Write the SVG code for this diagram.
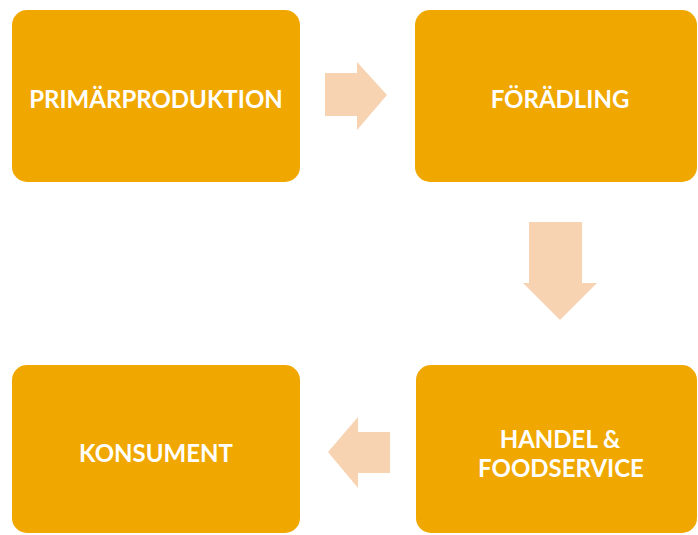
<svg xmlns="http://www.w3.org/2000/svg" width="698" height="535" viewBox="0 0 698 535">
<style>
.box{fill:#F0A800;}
.lbl{fill:#FFFFFF;font-family:Lato,"Open Sans","Liberation Sans",sans-serif;font-weight:bold;font-size:24px;text-anchor:middle;}
.arr{fill:#F7D3B2;}
</style>
<rect width="698" height="535" fill="#FFFFFF"/>
<g id="connectors">
<polygon class="arr" points="325,73 357,73 357,62 387,95 357,130 357,116 325,116"/>
<polygon class="arr" points="529,222 582,222 582,283 597,283 560,320 523,283 529,283"/>
<polygon class="arr" points="390,432 358,432 358,417 328,452 358,488 358,473 390,473"/>
</g>
<g id="node-primarproduktion">
<rect class="box" x="12" y="10" width="288" height="172" rx="15"/>
<text class="lbl" x="156" y="108">PRIMÄRPRODUKTION</text>
</g>
<g id="node-foradling">
<rect class="box" x="415" y="10" width="282" height="172" rx="15"/>
<text class="lbl" x="560" y="108">FÖRÄDLING</text>
</g>
<g id="node-handel">
<rect class="box" x="416" y="365" width="281" height="168" rx="15"/>
<text class="lbl" x="560" y="448">HANDEL &amp;</text>
<text class="lbl" x="561" y="477">FOODSERVICE</text>
</g>
<g id="node-konsument">
<rect class="box" x="12" y="365" width="288" height="168" rx="15"/>
<text class="lbl" x="156" y="462">KONSUMENT</text>
</g>
</svg>
